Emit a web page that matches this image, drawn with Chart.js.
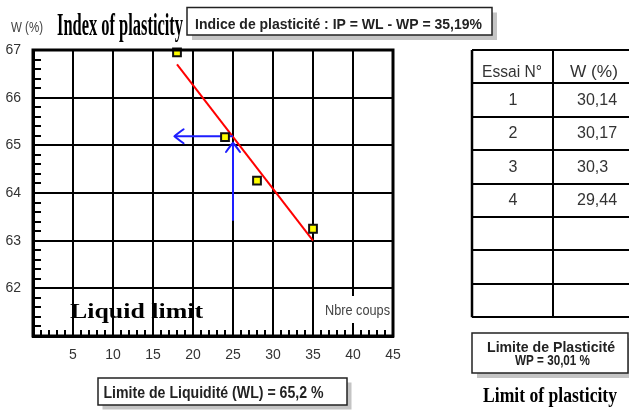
<!DOCTYPE html>
<html><head><meta charset="utf-8">
<script src="https://cdn.jsdelivr.net/npm/chart.js@4"></script>
<style>html,body{margin:0;padding:0;background:#fff}canvas{display:block}</style>
</head><body>
<canvas id="c" width="629" height="414"></canvas>
<script>
// ---- data ----
const blowCounts = [18, 24, 28, 35];
const waterContents = [66.95, 65.17, 64.26, 63.25];
const fitLineX = [18, 35];
const fitLineY = [66.7, 63.0];
const readoutX = [25, 17.7];
const readoutY = [65.19, 65.19];
const guideX = [25, 25];
const guideY = [63.42, 65.05];
const xTicks = [0, 5, 10, 15, 20, 25, 30, 35, 40, 45];
const yTicks = [61, 62, 63, 64, 65, 66, 67];
const trialNumbers = [1, 2, 3, 4];
const plasticW = [30.14, 30.17, 30.3, 29.44];
const emptyRows = 3;
const tableHeader = ['Essai N°', 'W (%)'];
const yAxisTitle = 'W (%)';
const xAxisTitle = 'Nbre coups';
const titleLabel = 'Index of plasticity';
const ipText = 'Indice de plasticité : IP = WL - WP = 35,19%';
const wlText = 'Limite de Liquidité (WL) = 65,2 %';
const wpLines = ['Limite de Plasticité', 'WP = 30,01 %'];
const llLabel = 'Liquid limit';
const plLabel = 'Limit of plasticity';

const fmt = v => String(v).replace('.', ',');

function fitText(ctx, text, o) {
  const ratio = o.serif ? 0.662 : 0.716;
  const size = o.cap / ratio;
  ctx.save();
  ctx.font = (o.weight || 'normal') + ' ' + size.toFixed(2) + 'px ' + (o.serif ? '"Liberation Serif"' : '"Liberation Sans"');
  ctx.fillStyle = o.color || '#222';
  ctx.textBaseline = 'alphabetic';
  ctx.textAlign = 'left';
  const w = ctx.measureText(text).width;
  const tw = o.width || w;
  const sx = tw / w;
  const left = o.left !== undefined ? o.left : o.center - tw / 2;
  ctx.translate(left, o.baseline);
  ctx.scale(sx, 1);
  ctx.fillText(text, 0, 0);
  ctx.restore();
}

function shadowBox(ctx, x, y, w, h, off) {
  ctx.save();
  ctx.fillStyle = '#c4c4c4';
  ctx.fillRect(x + off, y + off, w, h);
  ctx.fillStyle = '#fff';
  ctx.fillRect(x, y, w, h);
  ctx.strokeStyle = '#222';
  ctx.lineWidth = 1.5;
  ctx.strokeRect(x, y, w, h);
  ctx.restore();
}

const decor = {
  id: 'decor',
  beforeDatasetsDraw(chart) {
    const {ctx, chartArea: a, scales: {x, y}} = chart;
    ctx.save();
    ctx.fillStyle = '#fff';
    ctx.fillRect(a.right - 74, a.bottom - 40, 72, 27);
    ctx.strokeStyle = '#000';
    ctx.lineWidth = 2;
    ctx.beginPath();
    for (let v = x.min + 1; v < x.max; v++) {
      if (v % 5 === 0) continue;
      const px = Math.round(x.getPixelForValue(v));
      ctx.moveTo(px, a.bottom); ctx.lineTo(px, a.bottom - 6);
    }
    const steps = Math.round((y.max - y.min) / 0.2);
    for (let k = 1; k < steps; k++) {
      if (k % 5 === 0) continue;
      const py = Math.round(y.getPixelForValue(y.min + k * 0.2));
      ctx.moveTo(a.left, py); ctx.lineTo(a.left + 8, py);
    }
    ctx.stroke();
    ctx.restore();
    fitText(ctx, xAxisTitle, {left: a.right - 68, baseline: a.bottom - 21, cap: 10, width: 65, color: '#444'});
  },
  afterDatasetsDraw(chart) {
    const {ctx} = chart;
    chart.data.datasets.forEach((ds, i) => {
      if (!ds.arrow) return;
      const pts = chart.getDatasetMeta(i).data;
      const p1 = pts[pts.length - 2], p2 = pts[pts.length - 1];
      const ang = Math.atan2(p2.y - p1.y, p2.x - p1.x);
      const back = 9, half = 7;
      ctx.save();
      ctx.strokeStyle = ds.borderColor;
      ctx.lineWidth = 2;
      ctx.lineCap = 'round';
      ctx.beginPath();
      const bx = p2.x - back * Math.cos(ang), by = p2.y - back * Math.sin(ang);
      const nx = -Math.sin(ang) * half, ny = Math.cos(ang) * half;
      ctx.moveTo(bx + nx, by + ny);
      ctx.quadraticCurveTo(p2.x - 2 * Math.cos(ang) + nx * 0.3, p2.y - 2 * Math.sin(ang) + ny * 0.3, p2.x, p2.y);
      ctx.quadraticCurveTo(p2.x - 2 * Math.cos(ang) - nx * 0.3, p2.y - 2 * Math.sin(ang) - ny * 0.3, bx - nx, by - ny);
      ctx.stroke();
      ctx.restore();
    });
  },
  afterDraw(chart) {
    const {ctx, chartArea: a} = chart;
    // outer frame
    ctx.save();
    ctx.strokeStyle = '#000';
    ctx.lineWidth = 3;
    ctx.strokeRect(a.left, a.top, a.right - a.left, a.bottom - a.top);
    ctx.restore();

    // titles
    fitText(ctx, yAxisTitle, {left: 11, baseline: 32, cap: 10, width: 32, color: '#444'});
    fitText(ctx, titleLabel, {left: 57, baseline: 35, cap: 21, width: 126, serif: true, weight: 'bold', color: '#000'});
    fitText(ctx, llLabel, {left: 70, baseline: 318, cap: 14, width: 133, serif: true, weight: 'bold', color: '#000'});
    fitText(ctx, plLabel, {left: 483, baseline: 402, cap: 14, width: 134, serif: true, weight: 'bold', color: '#000'});

    // boxes
    shadowBox(ctx, 187, 7.5, 305, 27.5, 5);
    fitText(ctx, ipText, {left: 195, baseline: 29, cap: 11, width: 287, weight: 'bold'});
    shadowBox(ctx, 98, 378, 249, 27, 4.5);
    fitText(ctx, wlText, {left: 103.5, baseline: 398, cap: 12, width: 220, weight: 'bold'});
    shadowBox(ctx, 472, 333, 156, 40, 5);
    fitText(ctx, wpLines[0], {left: 487, baseline: 352, cap: 10, width: 128, weight: 'bold'});
    fitText(ctx, wpLines[1], {left: 515, baseline: 365, cap: 10, width: 75, weight: 'bold'});

    // table
    const tl = 472, tc = 553, tr = 645, tt = 50, rh = 33.4;
    const nRows = 1 + trialNumbers.length + emptyRows;
    const tb = tt + nRows * rh;
    ctx.save();
    ctx.strokeStyle = '#000';
    ctx.lineWidth = 2;
    ctx.beginPath();
    for (let r = 0; r <= nRows; r++) {
      const yy = Math.round(tt + r * rh);
      ctx.moveTo(tl, yy); ctx.lineTo(tr, yy);
    }
    ctx.moveTo(tc, tt); ctx.lineTo(tc, tb);
    ctx.stroke();
    ctx.lineWidth = 2.5;
    ctx.beginPath();
    ctx.moveTo(tl, tt); ctx.lineTo(tl, tb);
    ctx.stroke();
    ctx.restore();
    fitText(ctx, tableHeader[0], {center: 512, baseline: 76.7, cap: 11.5, width: 60, color: '#333'});
    fitText(ctx, tableHeader[1], {left: 570, baseline: 76.7, cap: 11.5, width: 48, color: '#333'});
    trialNumbers.forEach((n, i) => {
      const bl = 105 + i * rh;
      fitText(ctx, String(n), {center: 513, baseline: bl, cap: 11.5, color: '#333'});
      fitText(ctx, fmt(plasticW[i]), {left: 577, baseline: bl, cap: 11.5, color: '#333'});
    });
  }
};

new Chart(document.getElementById('c'), {
  type: 'line',
  data: {
    datasets: [
      {
        label: 'Essais',
        data: blowCounts.map((v, i) => ({x: v, y: waterContents[i]})),
        showLine: false,
        pointStyle: 'rect',
        pointRadius: 5.5,
        pointBackgroundColor: '#ffff00',
        pointBorderColor: '#111',
        pointBorderWidth: 2,
        clip: false,
        order: 0
      },
      {
        label: 'Droite',
        data: fitLineX.map((v, i) => ({x: v, y: fitLineY[i]})),
        borderColor: '#ff0000',
        borderWidth: 2,
        pointRadius: 0,
        order: 2
      },
      {
        label: 'WL lecture',
        data: readoutX.map((v, i) => ({x: v, y: readoutY[i]})),
        borderColor: '#1e1eff',
        borderWidth: 2,
        pointRadius: 0,
        arrow: true,
        order: 1
      },
      {
        label: 'WL 25 coups',
        data: guideX.map((v, i) => ({x: v, y: guideY[i]})),
        borderColor: '#1e1eff',
        borderWidth: 2,
        pointRadius: 0,
        arrow: true,
        order: 1
      }
    ]
  },
  options: {
    responsive: false,
    animation: false,
    devicePixelRatio: 1,
    layout: {padding: {top: 50, right: 236, left: 0, bottom: 0}},
    plugins: {legend: {display: false}, tooltip: {enabled: false}},
    scales: {
      x: {
        type: 'linear',
        min: xTicks[0],
        max: xTicks[xTicks.length - 1],
        afterBuildTicks: s => { s.ticks = xTicks.map(v => ({value: v})); },
        afterFit: s => { s.height = 78; },
        ticks: {
          callback: v => (v === xTicks[0] ? '' : v),
          font: {family: '"Liberation Sans"', size: 14},
          color: '#333',
          padding: 11,
          maxRotation: 0
        },
        grid: {color: '#000', lineWidth: 2, drawTicks: false},
        border: {color: '#000', width: 3}
      },
      y: {
        type: 'linear',
        min: yTicks[0],
        max: yTicks[yTicks.length - 1],
        afterBuildTicks: s => { s.ticks = yTicks.map(v => ({value: v})); },
        afterFit: s => { s.width = 33; },
        ticks: {
          callback: v => (v === yTicks[0] ? '' : v),
          font: {family: '"Liberation Sans"', size: 14},
          color: '#333',
          padding: 12
        },
        grid: {color: '#000', lineWidth: 2, drawTicks: false},
        border: {color: '#000', width: 3}
      }
    }
  },
  plugins: [decor]
});
</script>
</body></html>
